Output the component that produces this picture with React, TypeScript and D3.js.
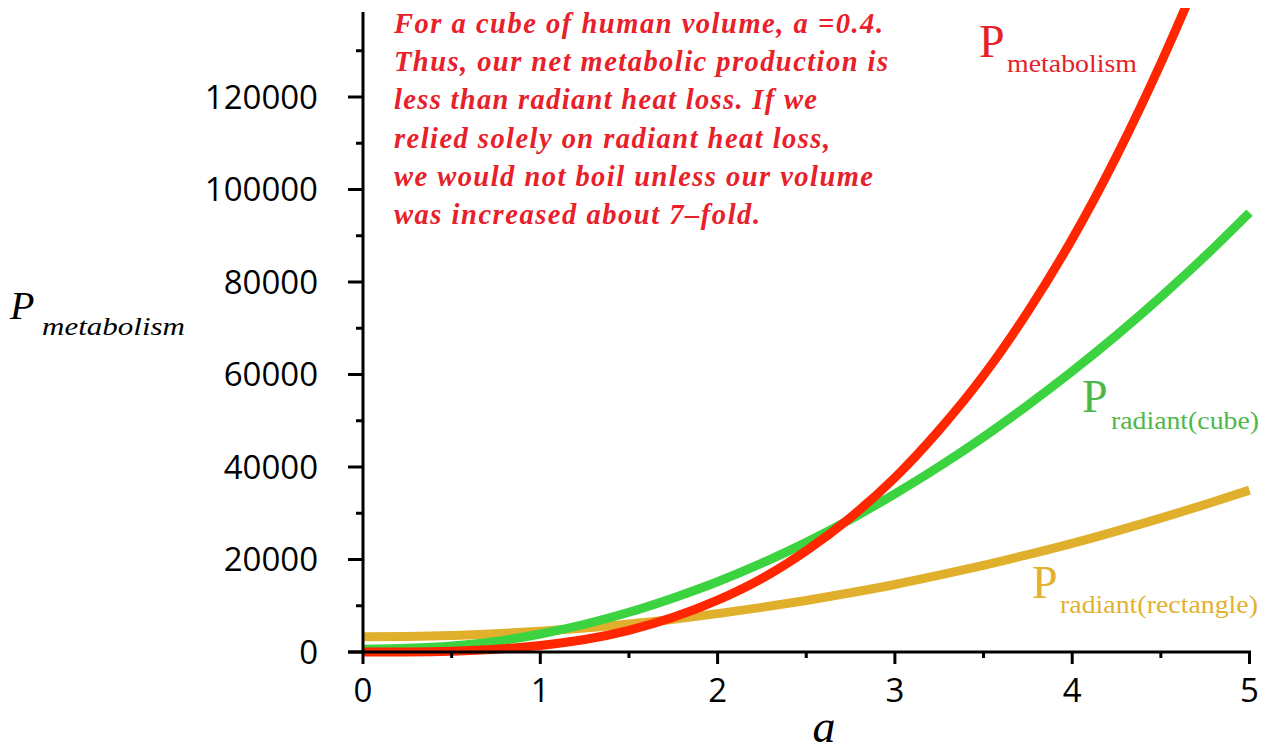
import * as React from 'react';
import * as d3 from "d3";

// values
const aValues = [0, 0.25, 0.5, 0.75, 1, 1.25, 1.5, 1.75, 2, 2.25, 2.5, 2.75, 3, 3.25, 3.5, 3.75, 4, 4.25, 4.5, 4.75, 5];
const metabolism = [0, 20, 170, 590, 1400, 2700, 4700, 7500, 11200, 15900, 21900, 29100, 37700, 48000, 59800, 73600, 89300, 107200, 127300, 149600, 174500];
const radiantCube = [600, 800, 1300, 2300, 3900, 6000, 8600, 11700, 15200, 19200, 23700, 28700, 34200, 40100, 46500, 53400, 60700, 68500, 76800, 85600, 95000];
const radiantRect = [3300, 3350, 3550, 3950, 4500, 5200, 6050, 7100, 8300, 9650, 11150, 12800, 14600, 16600, 18750, 21050, 23500, 26150, 28950, 31900, 35000];

const xTicks = [0, 1, 2, 3, 4, 5];
const xMinorTicks = [0.5, 1.5, 2.5, 3.5, 4.5];
const yTicks = [0, 20000, 40000, 60000, 80000, 100000, 120000];
const yMinorTicks = [10000, 30000, 50000, 70000, 90000, 110000, 130000];

const noteLines = [
    "For a cube of human volume, a =0.4.",
    "Thus, our net metabolic production is",
    "less than radiant heat loss. If we",
    "relied solely on radiant heat loss,",
    "we would not boil unless our volume",
    "was increased about 7\u2013fold.",
];
const noteWidths = [489, 494, 423, 436, 479, 366];

interface Point { x: number; y: number; }

const W = 1266, H = 752;
const serif = '"Liberation Serif", "Times New Roman", Times, serif';
const sans = '"Open Sans", "Noto Sans", sans-serif';

export default function App() {
    const x = d3.scaleLinear().domain([0, 5]).range([363, 1249.5]);
    const y = d3.scaleLinear().domain([0, 120000]).range([652, 97]);
    const yTop = 12;

    const line = d3.line<Point>()
        .curve(d3.curveMonotoneX)
        .x(p => x(p.x))
        .y(p => y(p.y));

    const toPts = (vals: number[]) => aValues.map((a, i) => ({ x: a, y: vals[i] }));

    const series = [
        { name: "rect", color: "#e0b02c", values: radiantRect },
        { name: "cube", color: "#3bd33f", values: radiantCube },
        { name: "met", color: "#ff2600", values: metabolism },
    ];

    return (
        <div style={{ position: "absolute", left: 0, top: 0 }}>
            <svg width={W} height={H} style={{ display: "block", background: "#fff" }}>
                <defs>
                    <clipPath id="plotClip">
                        <rect x={x(0) - 10} y={8} width={x(5) - x(0) + 20} height={y(0) - 8 + 20} />
                    </clipPath>
                </defs>

                <g clipPath="url(#plotClip)">
                    {series.map(s => (
                        <path key={s.name} d={line(toPts(s.values)) || undefined} fill="none"
                            stroke={s.color} strokeWidth={9} strokeLinecap="butt" />
                    ))}
                </g>

                {/* axes */}
                <g stroke="#000" strokeWidth={3}>
                    <line x1={x(0)} x2={x(0)} y1={yTop} y2={y(0) + 1.5} />
                    <line x1={x(0) - 15} x2={x(5) + 1.5} y1={y(0)} y2={y(0)} />
                    {yTicks.map(t => <line key={"yt" + t} x1={x(0) - 15} x2={x(0)} y1={y(t)} y2={y(t)} />)}
                    {yMinorTicks.map(t => <line key={"ym" + t} x1={x(0) - 7} x2={x(0)} y1={y(t)} y2={y(t)} />)}
                    {xTicks.map(t => <line key={"xt" + t} x1={x(t)} x2={x(t)} y1={y(0)} y2={y(0) + 12} />)}
                    {xMinorTicks.map(t => <line key={"xm" + t} x1={x(t)} x2={x(t)} y1={y(0)} y2={y(0) + 6} />)}
                </g>

                <g fontFamily={sans} fontSize={33} fill="#000">
                    {yTicks.map(t => (
                        <text key={"yl" + t} x={x(0) - 45} y={y(t) + 11.5} textAnchor="end">{t}</text>
                    ))}
                    {xTicks.map(t => (
                        <text key={"xl" + t} x={x(t)} y={702} textAnchor="middle">{t}</text>
                    ))}
                </g>

                {/* axis titles */}
                <g fontFamily={serif} fontStyle="italic" fill="#000">
                    <text x={10} y={319} fontSize={40}>P</text>
                    <text x={42} y={335} fontSize={26} textLength={143} lengthAdjust="spacingAndGlyphs">metabolism</text>
                    <text x={824} y={742} fontSize={46} textAnchor="middle">a</text>
                </g>

                {/* curve labels */}
                <g fontFamily={serif}>
                    <text x={979} y={57} fontSize={46} fill="#e52228">P</text>
                    <text x={1007} y={72} fontSize={26} fill="#e52228" textLength={130} lengthAdjust="spacingAndGlyphs">metabolism</text>
                    <text x={1082} y={412} fontSize={46} fill="#4db848">P</text>
                    <text x={1111} y={429} fontSize={26} fill="#4db848" textLength={148} lengthAdjust="spacingAndGlyphs">radiant(cube)</text>
                    <text x={1032} y={598} fontSize={46} fill="#e3b12f">P</text>
                    <text x={1060} y={613} fontSize={26} fill="#e3b12f" textLength={198} lengthAdjust="spacingAndGlyphs">radiant(rectangle)</text>
                </g>

                {/* annotation */}
                <g fontFamily={serif} fontStyle="italic" fontWeight={700} fontSize={28.5} fill="#e8202a">
                    {noteLines.map((l, i) => (
                        <text key={i} x={394} y={33 + i * 38.2} textLength={noteWidths[i]} lengthAdjust="spacing">{l}</text>
                    ))}
                </g>
            </svg>
        </div>
    );
}
